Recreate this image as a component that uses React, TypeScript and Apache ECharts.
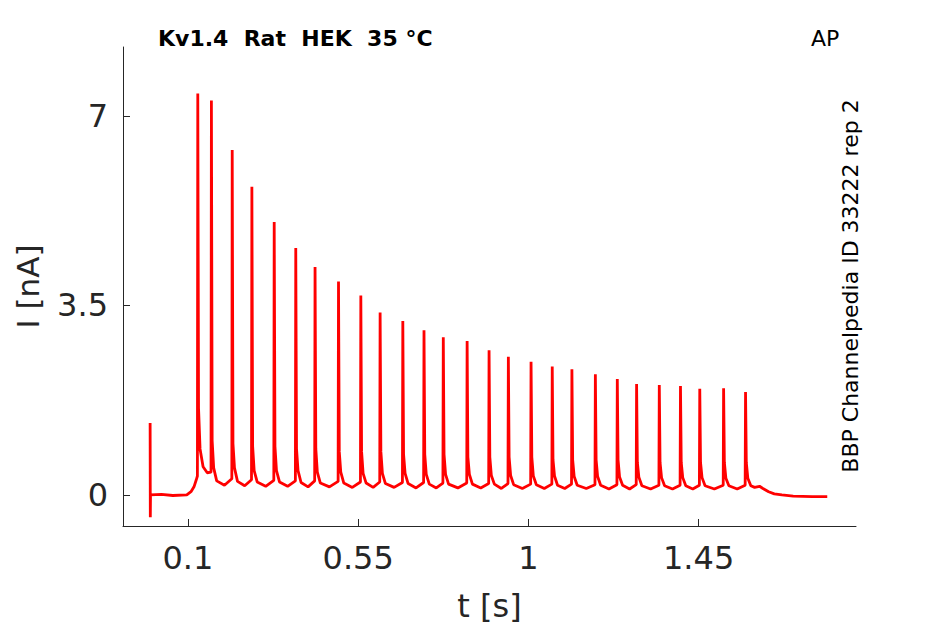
import React, { useEffect, useRef } from "react";
import * as echarts from "echarts";

// x ticks and y ticks
const xTicks = [0.1, 0.55, 1, 1.45];
const yTicks = [0, 3.5, 7];

// trace start: artifact at t=0 and slow rise before first spike  [t, I]
const startTrace: [number, number][] = [
  [0, 1.33], [0.0005, -0.41], [0.001, 0], [0.03, 0.01], [0.06, -0.01],
  [0.097, 0], [0.108, 0.06], [0.116, 0.15], [0.122, 0.28],
];

// spikes: time of peak [s] and peak current [nA]
const spikeT = [0.126, 0.162, 0.217, 0.269, 0.328, 0.385, 0.436, 0.498, 0.557, 0.608, 0.668, 0.724, 0.775, 0.838, 0.896, 0.947, 1.007, 1.063, 1.115, 1.177, 1.235, 1.286, 1.346, 1.402, 1.453, 1.516, 1.574];
const spikePeak = [7.41, 7.28, 6.37, 5.69, 5.04, 4.56, 4.21, 3.94, 3.68, 3.37, 3.21, 3.04, 2.91, 2.84, 2.67, 2.55, 2.46, 2.37, 2.32, 2.23, 2.14, 2.05, 2.03, 2.01, 1.96, 1.97, 1.9];
// level just before each spike
const preLevel = [0.35, 0.42, 0.3, 0.28, 0.27, 0.26, 0.26, 0.25, 0.24, 0.24, 0.23, 0.23, 0.22, 0.22, 0.21, 0.21, 0.2, 0.2, 0.2, 0.19, 0.19, 0.19, 0.18, 0.18, 0.18, 0.18, 0.18];
// decay levels at +2 ms, +6 ms, +14 ms after each peak
const tailA = [1.6, 1.0, 0.95, 0.9, 0.9, 0.85, 0.85, 0.8, 0.8, 0.8, 0.75, 0.75, 0.75, 0.7, 0.7, 0.7, 0.7, 0.65, 0.65, 0.65, 0.65, 0.6, 0.6, 0.6, 0.6, 0.6, 0.6];
const tailB = [0.85, 0.5, 0.5, 0.45, 0.45, 0.45, 0.42, 0.42, 0.4, 0.4, 0.4, 0.38, 0.38, 0.38, 0.36, 0.36, 0.35, 0.35, 0.34, 0.34, 0.33, 0.33, 0.32, 0.32, 0.32, 0.31, 0.31];
const tailC = [0.52, 0.26, 0.25, 0.24, 0.24, 0.23, 0.22, 0.22, 0.22, 0.21, 0.21, 0.2, 0.2, 0.2, 0.2, 0.19, 0.19, 0.18, 0.18, 0.18, 0.18, 0.17, 0.17, 0.17, 0.17, 0.17, 0.17];
// minimum between a spike and the next one
const troughMin = [0.41, 0.18, 0.17, 0.16, 0.16, 0.15, 0.15, 0.14, 0.14, 0.14, 0.13, 0.13, 0.13, 0.13, 0.12, 0.12, 0.12, 0.12, 0.12, 0.11, 0.11, 0.11, 0.11, 0.11, 0.11, 0.11, 0.14];

// trace end: after last spike, small bump then return to baseline
const endTrace: [number, number][] = [
  [1.611, 0.16], [1.62, 0.12], [1.635, 0.06], [1.65, 0.02], [1.67, 0.0],
  [1.7, -0.02], [1.75, -0.03], [1.79, -0.03],
];

function buildTrace(): [number, number][] {
  const pts: [number, number][] = [...startTrace];
  for (let i = 0; i < spikeT.length; i++) {
    const t = spikeT[i];
    pts.push([t - 0.001, preLevel[i]]);
    pts.push([t, spikePeak[i]]);
    pts.push([t + 0.002, tailA[i]]);
    pts.push([t + 0.006, tailB[i]]);
    pts.push([t + 0.014, tailC[i]]);
    const next = i + 1 < spikeT.length ? spikeT[i + 1] : 1.6;
    if (next - t > 0.03) pts.push([(t + 0.014 + next) / 2, troughMin[i]]);
    else pts.push([t + 0.024, troughMin[i]]);
  }
  return pts.concat(endTrace);
}

const FONT = "DejaVu Sans";
const AX = "#262626";

export default function App() {
  const ref = useRef<HTMLDivElement>(null);
  useEffect(() => {
    if (!ref.current) return;
    const chart = echarts.init(ref.current, undefined, { renderer: "svg" });
    chart.setOption({
      animation: false,
      backgroundColor: "#ffffff",
      grid: { left: 123, top: 47, width: 733, height: 479, containLabel: false, outerBoundsMode: "none" },
      xAxis: {
        type: "value",
        min: -0.0717,
        max: 1.866,
        name: "t [s]",
        nameLocation: "middle",
        nameGap: 64,
        nameTextStyle: { fontFamily: FONT, fontSize: 32, color: AX },
        axisLine: { show: true, onZero: false, lineStyle: { color: AX, width: 1 } },
        axisTick: { show: true, inside: true, length: 7, customValues: xTicks, lineStyle: { color: AX } },
        axisLabel: { customValues: xTicks, fontFamily: FONT, fontSize: 32, color: AX, margin: 16 },
        splitLine: { show: false },
      },
      yAxis: {
        type: "value",
        min: -0.573,
        max: 8.27,
        name: "I [nA]",
        nameLocation: "middle",
        nameGap: 80,
        nameRotate: 90,
        nameTextStyle: { fontFamily: FONT, fontSize: 31, color: AX },
        axisLine: { show: true, onZero: false, lineStyle: { color: AX, width: 1 } },
        axisTick: { show: true, inside: true, length: 7, customValues: yTicks, lineStyle: { color: AX } },
        axisLabel: { customValues: yTicks, fontFamily: FONT, fontSize: 32, color: AX, margin: 15 },
        splitLine: { show: false },
      },
      graphic: [
        {
          type: "text",
          left: 158,
          top: 27,
          style: { text: "Kv1.4  Rat  HEK  35 °C", fontFamily: FONT, fontSize: 22, fontWeight: "bold", fill: "#000" },
        },
        {
          type: "text",
          left: 811,
          top: 27,
          style: { text: "AP", fontFamily: FONT, fontSize: 22, fill: "#000" },
        },
        {
          type: "text",
          x: 850,
          y: 286,
          rotation: Math.PI / 2,
          style: {
            text: "BBP Channelpedia ID 33222 rep 2",
            fontFamily: FONT,
            fontSize: 22,
            fill: "#000",
            align: "center",
            verticalAlign: "middle",
          },
        },
      ],
      series: [
        {
          type: "line",
          data: buildTrace(),
          showSymbol: false,
          symbol: "none",
          lineStyle: { color: "#ff0000", width: 2.8 },
          clip: true,
        },
      ],
    });
    return () => chart.dispose();
  }, []);
  return <div ref={ref} style={{ position: "fixed", left: 0, top: 0, width: 945, height: 624 }} />;
}
